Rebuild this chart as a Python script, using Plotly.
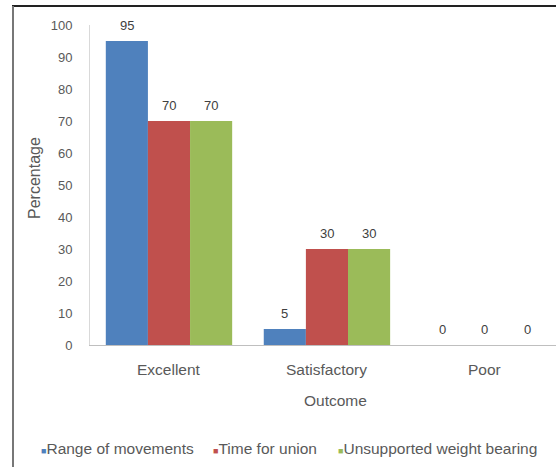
import plotly.graph_objects as go

# Outcome categories and the three assessed parameters (percentages)
categories = ["Excellent", "Satisfactory", "Poor"]
range_of_movements = [95, 5, 0]
time_for_union = [70, 30, 0]
unsupported_weight_bearing = [70, 30, 0]

series_names = ["Range of movements", "Time for union", "Unsupported weight bearing"]
series_values = [range_of_movements, time_for_union, unsupported_weight_bearing]
series_colors = ["#4F81BD", "#C0504D", "#9BBB59"]

y_ticks = list(range(0, 101, 10))

W, H = 556, 467
L, R, T, B = 90, 0, 25, 122
plot_w = W - L - R
plot_h = H - T - B

FONT = "Liberation Sans, Arial, sans-serif"
TXT = "#595959"
WORD_SIZE = 15.5


def px_x(px):
    return (px - L) / plot_w


def px_y(py):
    return (H - B - py) / plot_h


BARGAP = 0.2
bar_w = (1 - BARGAP) / len(series_names)

fig = go.Figure()
annotations = []
for j, (name, vals, col) in enumerate(zip(series_names, series_values, series_colors)):
    fig.add_trace(go.Bar(
        x=list(range(len(categories))),
        y=vals,
        name=name,
        marker=dict(color=col, line=dict(width=0)),
        showlegend=False,
    ))
    offset = (j - (len(series_names) - 1) / 2) * bar_w
    for i, v in enumerate(vals):
        annotations.append(dict(
            x=i + offset, y=v, xref="x", yref="y",
            text=str(v), showarrow=False, yanchor="middle", yshift=16,
            font=dict(family=FONT, size=13, color="#404040"),
        ))

# category labels beneath the axis
for i, c in enumerate(categories):
    annotations.append(dict(
        x=i, y=0, xref="x", yref="y", text=c, showarrow=False,
        yanchor="middle", yshift=-24,
        font=dict(family=FONT, size=WORD_SIZE, color=TXT),
    ))

# axis titles
annotations.append(dict(
    x=px_x(335), y=px_y(400), xref="paper", yref="paper", text="Outcome",
    showarrow=False, xanchor="center", yanchor="middle",
    font=dict(family=FONT, size=WORD_SIZE, color=TXT),
))
annotations.append(dict(
    x=px_x(34), y=px_y(178), xref="paper", yref="paper", text="Percentage",
    showarrow=False, textangle=-90, xanchor="center", yanchor="middle",
    font=dict(family=FONT, size=16, color=TXT),
))

# legend row
legend_x = [39, 211, 336]
for name, col, lx in zip(series_names, series_colors, legend_x):
    annotations.append(dict(
        x=px_x(lx), y=px_y(448), xref="paper", yref="paper",
        text=f"<span style='color:{col};font-size:9px'>■</span>{name}",
        showarrow=False, xanchor="left", yanchor="middle",
        font=dict(family=FONT, size=WORD_SIZE, color=TXT),
    ))

shapes = [
    # frame: top and left edges
    dict(type="line", xref="paper", yref="paper",
         x0=px_x(12), x1=px_x(W + 2), y0=px_y(6), y1=px_y(6),
         line=dict(color="#222222", width=2)),
    dict(type="line", xref="paper", yref="paper",
         x0=px_x(13), x1=px_x(13), y0=px_y(6), y1=px_y(H + 2),
         line=dict(color="#777777", width=2)),
]

fig.update_layout(
    width=W, height=H,
    margin=dict(l=L, r=R, t=T, b=B, pad=0),
    paper_bgcolor="white", plot_bgcolor="white",
    barmode="group", bargap=BARGAP, bargroupgap=0,
    showlegend=False,
    annotations=annotations,
    shapes=shapes,
    font=dict(family=FONT, size=14, color=TXT),
)
fig.update_xaxes(
    range=[-0.5, len(categories) - 0.55],
    showticklabels=False, showgrid=False, zeroline=False,
    showline=True, linecolor="#BFBFBF", linewidth=1,
    ticks="", fixedrange=True,
)
fig.update_yaxes(
    range=[0, 100], tickvals=y_ticks,
    showgrid=False, zeroline=False,
    showline=True, linecolor="#D9D9D9", linewidth=1,
    ticks="", ticklabelstandoff=14,
    tickfont=dict(family=FONT, size=13, color=TXT),
    fixedrange=True,
)
for tr in fig.data:
    tr.cliponaxis = False

fig.write_html("out.html")
